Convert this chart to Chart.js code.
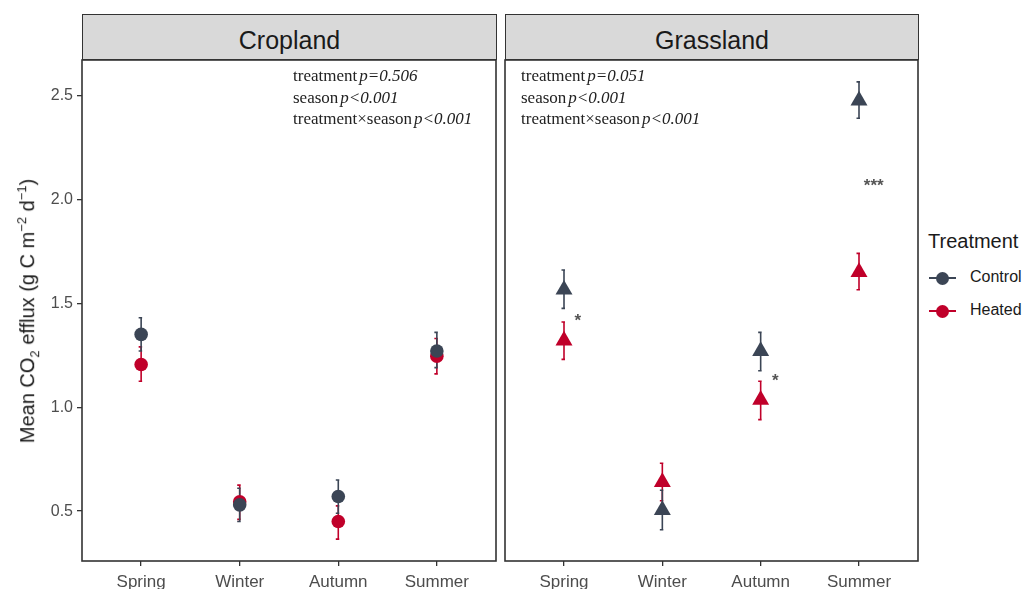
<!DOCTYPE html>
<html>
<head>
<meta charset="utf-8">
<script src="https://cdn.jsdelivr.net/npm/chart.js@4/dist/chart.umd.min.js"></script>
<style>
  body { margin: 0; background: #fff; }
  #wrap { position: relative; width: 1024px; height: 589px; overflow: hidden; font-family: "Liberation Sans", Arial, sans-serif; }
  canvas { position: absolute; top: 0; }
  .strip { position: absolute; top: 14px; height: 46px; box-sizing: border-box; background: #d9d9d9; border: 1.5px solid #333;
           font-size: 25px; color: #1a1a1a; text-align: center; line-height: 50px; }
  .stats { position: absolute; top: 65px; font-family: "Liberation Serif", "Times New Roman", serif; font-size: 17px;
           line-height: 21.5px; color: #222; white-space: nowrap; }
  .stats i { margin-left: 2px; }
  #ytitle { position: absolute; left: 28px; top: 311px; transform: translate(-50%, -50%) rotate(-90deg);
            font-size: 20px; color: #1a1a1a; white-space: nowrap; }
  #ytitle sub, #ytitle sup { font-size: 13px; }
  #legend { position: absolute; left: 926px; top: 230px; color: #1a1a1a; }
  #legend .title { font-size: 20px; line-height: 23px; margin-left: 2px; margin-bottom: 6px; }
  .key { position: relative; height: 33px; }
  .key .ln { position: absolute; left: 3px; top: 18px; width: 27px; height: 2px; }
  .key .dot { position: absolute; left: 10px; top: 12.5px; width: 13px; height: 13px; border-radius: 50%; }
  .key span { position: absolute; left: 44px; top: 9px; font-size: 16px; }
</style>
</head>
<body>
<div id="wrap">
  <canvas id="cropChart" width="500" height="589" style="left:0"></canvas>
  <canvas id="grassChart" width="424" height="589" style="left:500px"></canvas>
  <div class="strip" style="left:82px;width:415px">Cropland</div>
  <div class="strip" style="left:505px;width:414px">Grassland</div>
  <div class="stats" id="cropStats" style="left:293px"></div>
  <div class="stats" id="grassStats" style="left:521px"></div>
  <div id="ytitle">Mean CO<sub>2</sub> efflux (g C m<sup>−2</sup> d<sup>−1</sup>)</div>
  <div id="legend"></div>
</div>
<script>
// --- Data ---
const seasons = ['Spring', 'Winter', 'Autumn', 'Summer'];
const yTicks = [0.5, 1.0, 1.5, 2.0, 2.5];

const cropControl   = [1.35, 0.53, 0.57, 1.27];
const cropControlLo = [1.27, 0.45, 0.49, 1.19];
const cropControlHi = [1.43, 0.61, 0.65, 1.36];
const cropHeated    = [1.205, 0.545, 0.45, 1.245];
const cropHeatedLo  = [1.125, 0.46, 0.365, 1.16];
const cropHeatedHi  = [1.29, 0.625, 0.525, 1.33];

const grassControl   = [1.565, 0.505, 1.27, 2.475];
const grassControlLo = [1.475, 0.41, 1.175, 2.39];
const grassControlHi = [1.66, 0.60, 1.36, 2.565];
const grassHeated    = [1.32, 0.64, 1.035, 1.65];
const grassHeatedLo  = [1.23, 0.55, 0.94, 1.565];
const grassHeatedHi  = [1.41, 0.73, 1.125, 1.74];

// significance stars (grassland only)
const sigLabels = ['*', '*', '***'];
const sigX = [1.14, 3.15, 4.15];
const sigY = [1.44, 1.15, 2.09];

const cropStats  = [['treatment', 'p=0.506'], ['season', 'p<0.001'], ['treatment×season', 'p<0.001']];
const grassStats = [['treatment', 'p=0.051'], ['season', 'p<0.001'], ['treatment×season', 'p<0.001']];

const treatments = ['Control', 'Heated'];
const CONTROL_COL = '#3b4555';
const HEATED_COL = '#c0002a';

// --- helpers ---
const toPoints = vals => vals.map((v, i) => ({ x: i + 1, y: v }));

function makeDataset(label, vals, lo, hi, color, shape) {
    return {
        label: label,
        data: toPoints(vals),
        lo: lo,
        hi: hi,
        showLine: false,
        pointStyle: shape,
        pointRadius: shape === 'triangle' ? 9.8 : 6.8,
        pointBorderWidth: 0,
        backgroundColor: color,
        borderColor: color
    };
}

// error bars drawn under the points
const errorBars = {
    id: 'errorBars',
    beforeDatasetsDraw(chart) {
        const ctx = chart.ctx;
        const x = chart.scales.x, y = chart.scales.y;
        chart.data.datasets.slice().reverse().forEach(ds => {
            ctx.save();
            ctx.strokeStyle = ds.borderColor;
            ctx.lineWidth = 1.6;
            ds.data.forEach((p, i) => {
                const px = x.getPixelForValue(p.x);
                const top = y.getPixelForValue(ds.hi[i]);
                const bot = y.getPixelForValue(ds.lo[i]);
                ctx.beginPath();
                ctx.moveTo(px, top); ctx.lineTo(px, bot);
                ctx.moveTo(px - 2.5, top); ctx.lineTo(px + 1, top);
                ctx.moveTo(px - 2.5, bot); ctx.lineTo(px + 1, bot);
                ctx.stroke();
            });
            ctx.restore();
        });
    }
};

// panel border + optional significance labels
const panelDecor = {
    id: 'panelDecor',
    afterDraw(chart, args, opts) {
        const ctx = chart.ctx;
        const a = chart.chartArea;
        ctx.save();
        ctx.strokeStyle = '#333';
        ctx.lineWidth = 1.6;
        ctx.strokeRect(a.left, a.top, a.right - a.left, a.bottom - a.top);
        if (opts.stars) {
            ctx.fillStyle = '#555';
            ctx.font = 'bold 17px "Liberation Sans", Arial, sans-serif';
            ctx.textAlign = 'center';
            ctx.textBaseline = 'alphabetic';
            opts.stars.labels.forEach((t, i) => {
                const px = chart.scales.x.getPixelForValue(opts.stars.x[i]);
                const py = chart.scales.y.getPixelForValue(opts.stars.y[i]);
                ctx.fillText(t, px, py + 10);
            });
        }
        ctx.restore();
    }
};

function buildOptions(showY, pad, stars) {
    return {
        responsive: false,
        animation: false,
        layout: { padding: pad, autoPadding: false },
        plugins: {
            legend: { display: false },
            tooltip: { enabled: false },
            panelDecor: { stars: stars }
        },
        scales: {
            x: {
                type: 'linear',
                min: 0.4,
                max: 4.6,
                afterBuildTicks: s => { s.ticks = seasons.map((_, i) => ({ value: i + 1 })); },
                afterFit: s => { s.height = 28; },
                border: { display: false },
                grid: { drawOnChartArea: false, tickLength: 5, color: '#333', lineWidth: 1.3 },
                ticks: {
                    color: '#4d4d4d',
                    padding: 6,
                    maxRotation: 0,
                    font: { family: '"Liberation Sans", Arial, sans-serif', size: 17 },
                    callback: v => seasons[v - 1]
                }
            },
            y: {
                display: showY,
                min: 0.26,
                max: 2.67,
                afterBuildTicks: s => { s.ticks = yTicks.map(v => ({ value: v })); },
                afterFit: s => { if (showY) s.width = 82; },
                border: { display: false },
                grid: { drawOnChartArea: false, tickLength: 5, color: '#333', lineWidth: 1.3 },
                ticks: {
                    color: '#4d4d4d',
                    padding: 4,
                    font: { family: '"Liberation Sans", Arial, sans-serif', size: 16 },
                    callback: v => v.toFixed(1)
                }
            }
        }
    };
}

new Chart(document.getElementById('cropChart'), {
    type: 'scatter',
    data: {
        datasets: [
            makeDataset('Control', cropControl, cropControlLo, cropControlHi, CONTROL_COL, 'circle'),
            makeDataset('Heated', cropHeated, cropHeatedLo, cropHeatedHi, HEATED_COL, 'circle')
        ]
    },
    options: buildOptions(true, { top: 60, right: 4, left: 0, bottom: 0 }, null),
    plugins: [errorBars, panelDecor]
});

new Chart(document.getElementById('grassChart'), {
    type: 'scatter',
    data: {
        datasets: [
            makeDataset('Control', grassControl, grassControlLo, grassControlHi, CONTROL_COL, 'triangle'),
            makeDataset('Heated', grassHeated, grassHeatedLo, grassHeatedHi, HEATED_COL, 'triangle')
        ]
    },
    options: buildOptions(false, { top: 60, right: 6, left: 5, bottom: 0 },
        { labels: sigLabels, x: sigX, y: sigY }),
    plugins: [errorBars, panelDecor]
});

// stats text
function fillStats(el, rows) {
    el.innerHTML = rows.map(r => `<div>${r[0]}<i>${r[1]}</i></div>`).join('');
}
fillStats(document.getElementById('cropStats'), cropStats);
fillStats(document.getElementById('grassStats'), grassStats);

// legend
const legendCols = [CONTROL_COL, HEATED_COL];
document.getElementById('legend').innerHTML =
    '<div class="title">Treatment</div>' +
    treatments.map((t, i) => `<div class="key"><div class="ln" style="background:${legendCols[i]}"></div>` +
        `<div class="dot" style="background:${legendCols[i]}"></div><span>${t}</span></div>`).join('');
</script>
</body>
</html>
